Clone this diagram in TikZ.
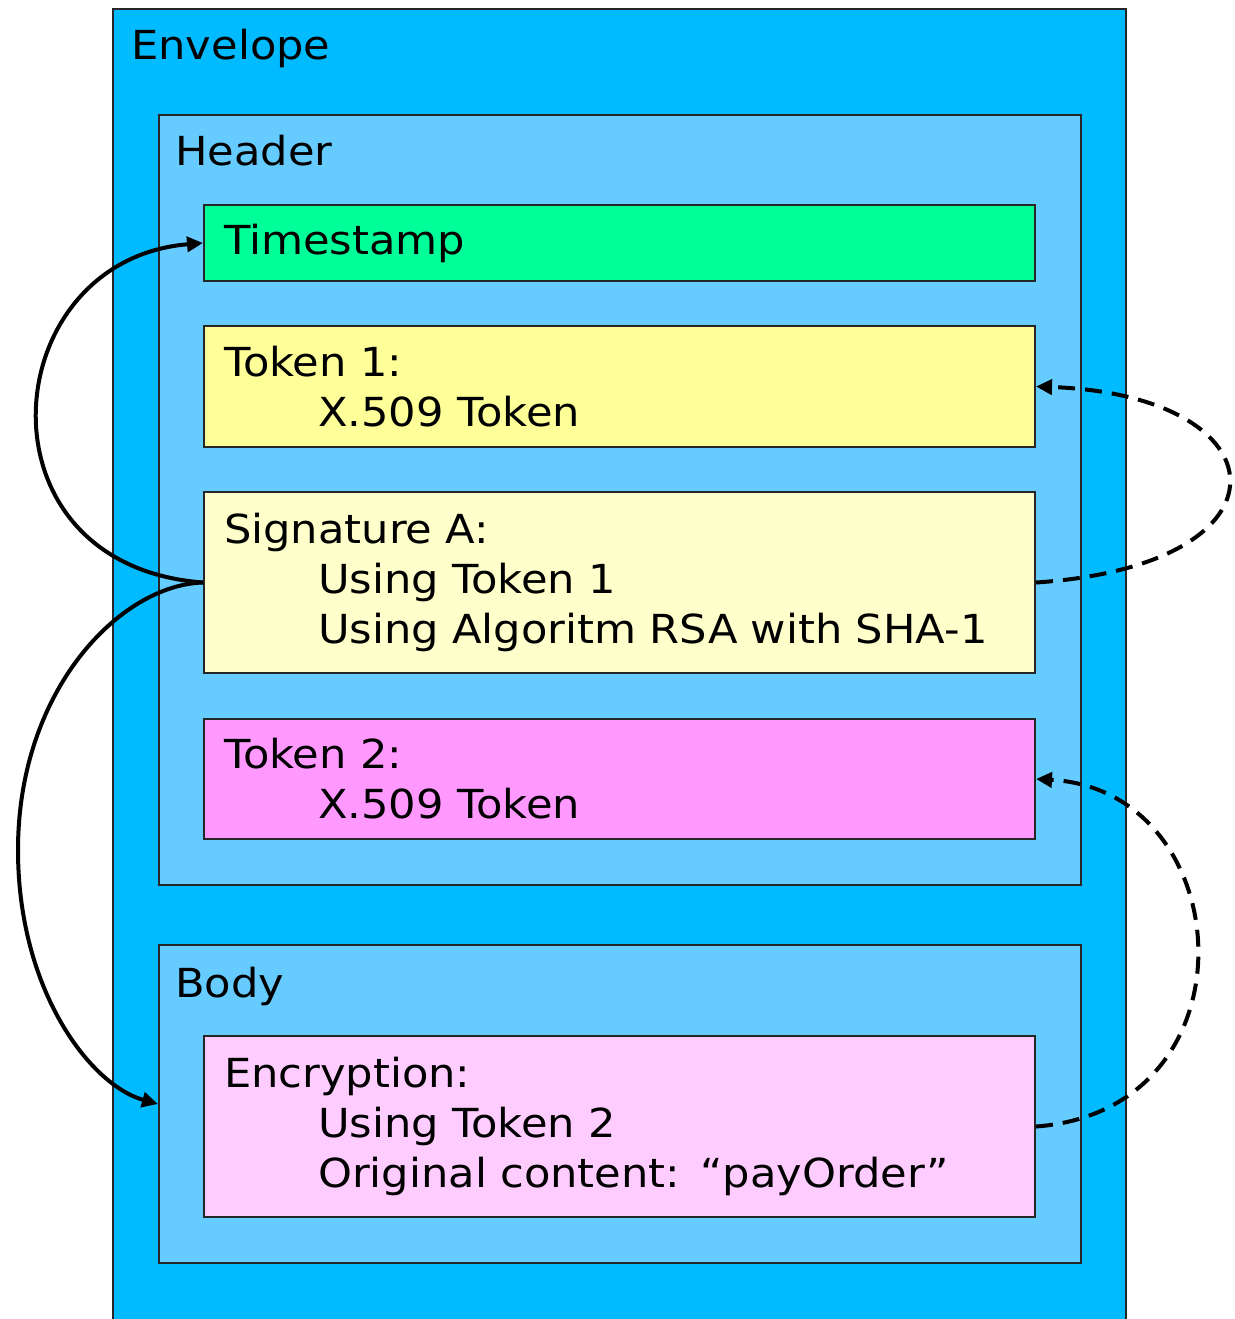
\documentclass[tikz,border=0pt]{standalone}
\usepackage{fontspec}
\setmainfont[FakeStretch=1.08]{DejaVu Sans}
\usetikzlibrary{arrows.meta}
\definecolor{envc}{RGB}{0,187,255}
\definecolor{hdrc}{RGB}{102,204,255}
\definecolor{tsc}{RGB}{0,255,153}
\definecolor{tokac}{RGB}{255,255,153}
\definecolor{sigc}{RGB}{255,255,204}
\definecolor{tokbc}{RGB}{255,153,255}
\definecolor{encc}{RGB}{255,204,255}
\begin{document}
\begin{tikzpicture}[x=1pt,y=-1pt,
  every node/.style={font=\fontsize{40}{50}\selectfont},
  container/.style={draw=black!85, line width=2pt, inner sep=0pt, anchor=north west},
  item/.style={draw=black!85, line width=2pt, anchor=north west, inner xsep=20pt, inner ysep=0pt,
    text width=791pt, minimum width=831pt, align=left},
  lbl/.style={anchor=base west, inner sep=0pt},
  link/.style={line width=4pt, -{Triangle[length=16pt,width=15pt]}},
  dlink/.style={link, dash pattern=on 17pt off 10pt}]
\useasboundingbox (0,0) rectangle (1234,1319);
\clip (0,0) rectangle (1234,1319);
% containers
\node[container, fill=envc, minimum width=1013pt, minimum height=1340pt] (env) at (112,8) {};
\node[lbl] (envl) at (131,60) {Envelope};
\node[container, fill=hdrc, minimum width=922pt, minimum height=770pt] (hdr) at (158,114) {};
\node[lbl] (hdrl) at (175,165) {Header};
\node[container, fill=hdrc, minimum width=922pt, minimum height=318pt] (body) at (158,944) {};
\node[lbl] (bodyl) at (175,997) {Body};
% items
\node[item, fill=tsc, minimum height=76pt] (ts) at (203,204) {Timestamp};
\node[item, fill=tokac, minimum height=121pt] (tok1) at (203,325) {Token 1:\\\hspace*{94pt}X.509 Token};
\node[item, fill=sigc, minimum height=181pt] (sig) at (203,491) {Signature A:\\\hspace*{94pt}Using Token 1\\\hspace*{94pt}Using Algoritm RSA with SHA-1};
\node[item, fill=tokbc, minimum height=120pt] (tok2) at (203,718) {Token 2:\\\hspace*{94pt}X.509 Token};
\node[item, fill=encc, minimum height=181pt] (enc) at (203,1035) {Encryption:\\\hspace*{94pt}Using Token 2\\\hspace*{94pt}Original content: “payOrder”};
% connectors
\draw[link] (sig.west) .. controls (-30,565) and (-5,260) .. (ts.west);
\draw[link] (sig.west) .. controls (120,585) and (18,690) .. (18,850) .. controls (18,990) and (90,1085) .. (body.west);
\draw[dlink] (sig.east) .. controls (1300,565) and (1285,395) .. (tok1.east);
\draw[dlink] (enc.east) .. controls (1260,1110) and (1240,790) .. (tok2.east);
\end{tikzpicture}
\end{document}
